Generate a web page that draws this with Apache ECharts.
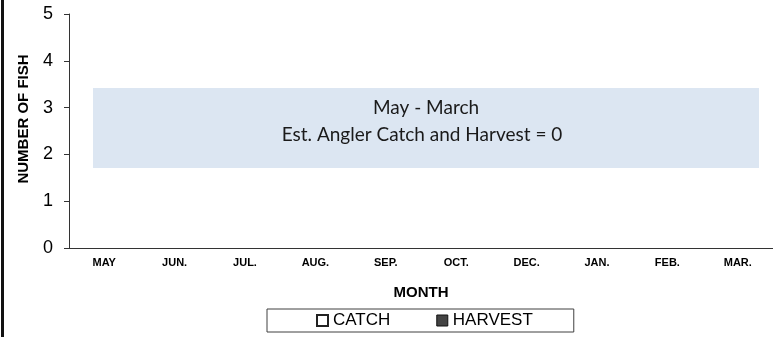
<!DOCTYPE html>
<html>
<head>
	<meta charset="utf-8">
	<title>Angler catch and harvest</title>
	<script src="https://cdn.jsdelivr.net/npm/echarts@6/dist/echarts.min.js"></script>
	<style>
		html, body { margin: 0; padding: 0; background: #fff; }
	</style>
</head>
<body>
	<div id="main" style="width: 773px;height: 337px;"></div>
</body>
<script type="text/javascript">
	var months = ['MAY', 'JUN.', 'JUL.', 'AUG.', 'SEP.', 'OCT.', 'DEC.', 'JAN.', 'FEB.', 'MAR.'];
	var catchData = [0, 0, 0, 0, 0, 0, 0, 0, 0, 0];
	var harvestData = [0, 0, 0, 0, 0, 0, 0, 0, 0, 0];
	var noteLines = ['May - March', 'Est. Angler Catch and Harvest = 0'];

	var myChart = echarts.init(document.getElementById('main'));
	var axisColor = '#333';
	var font = '"Liberation Sans", Arial, sans-serif';

	var option = {
		animation: false,
		grid: {
			left: 69,
			top: 14,
			bottom: 89,
			width: 706
		},
		legend: {
			left: 267,
			top: 309,
			padding: [3, 41, 3, 49],
			borderColor: '#404040',
			borderWidth: 1,
			itemWidth: 11,
			itemHeight: 11,
			itemGap: 46,
			icon: 'rect',
			textStyle: {
				fontFamily: font,
				fontSize: 17,
				color: '#000'
			},
			data: [{
				name: 'CATCH',
				itemStyle: { color: '#fff', borderColor: '#222', borderWidth: 2 }
			}, {
				name: 'HARVEST',
				itemStyle: { color: '#444', borderColor: '#111', borderWidth: 1 }
			}]
		},
		xAxis: {
			type: 'category',
			data: months,
			name: 'MONTH',
			nameLocation: 'middle',
			nameGap: 37,
			nameTextStyle: {
				fontFamily: font,
				fontWeight: 'bold',
				fontSize: 15,
				color: '#000'
			},
			axisLine: { lineStyle: { color: axisColor, width: 1 } },
			axisTick: { inside: true, length: 3, lineStyle: { color: axisColor } },
			axisLabel: {
				margin: 9,
				fontFamily: font,
				fontWeight: 'bold',
				fontSize: 11,
				color: '#000'
			}
		},
		yAxis: {
			type: 'value',
			min: 0,
			max: 5,
			interval: 1,
			splitLine: { show: false },
			axisLine: { show: true, lineStyle: { color: axisColor, width: 1 } },
			axisTick: { show: true, length: 5, lineStyle: { color: axisColor } },
			axisLabel: {
				margin: 16,
				fontFamily: font,
				fontSize: 18,
				color: '#000'
			}
		},
		series: [{
			name: 'CATCH',
			type: 'bar',
			data: catchData,
			itemStyle: { color: '#fff', borderWidth: 0 }
		}, {
			name: 'HARVEST',
			type: 'bar',
			data: harvestData,
			itemStyle: { color: '#444', borderWidth: 0 }
		}],
		graphic: [{
			// left frame line
			type: 'rect',
			shape: { x: 1, y: 0, width: 3, height: 337 },
			style: { fill: '#111' }
		}, {
			type: 'text',
			x: 24,
			y: 119,
			rotation: Math.PI / 2,
			style: {
				text: 'NUMBER OF FISH',
				fontFamily: font,
				fontWeight: 'bold',
				fontSize: 15,
				fill: '#000',
				align: 'center',
				verticalAlign: 'middle'
			}
		}, {
			type: 'rect',
			shape: { x: 93, y: 88, width: 666, height: 80 },
			style: { fill: '#dce6f2' }
		}, {
			type: 'text',
			x: 426,
			y: 108,
			style: {
				text: noteLines[0],
				fontFamily: 'Lato',
				fontSize: 19,
				fill: '#1a1a1a',
				align: 'center',
				verticalAlign: 'middle'
			}
		}, {
			type: 'text',
			x: 422,
			y: 135,
			style: {
				text: noteLines[1],
				fontFamily: 'Lato',
				fontSize: 19,
				fill: '#1a1a1a',
				align: 'center',
				verticalAlign: 'middle'
			}
		}]
	};
	myChart.setOption(option);
</script>
</html>
